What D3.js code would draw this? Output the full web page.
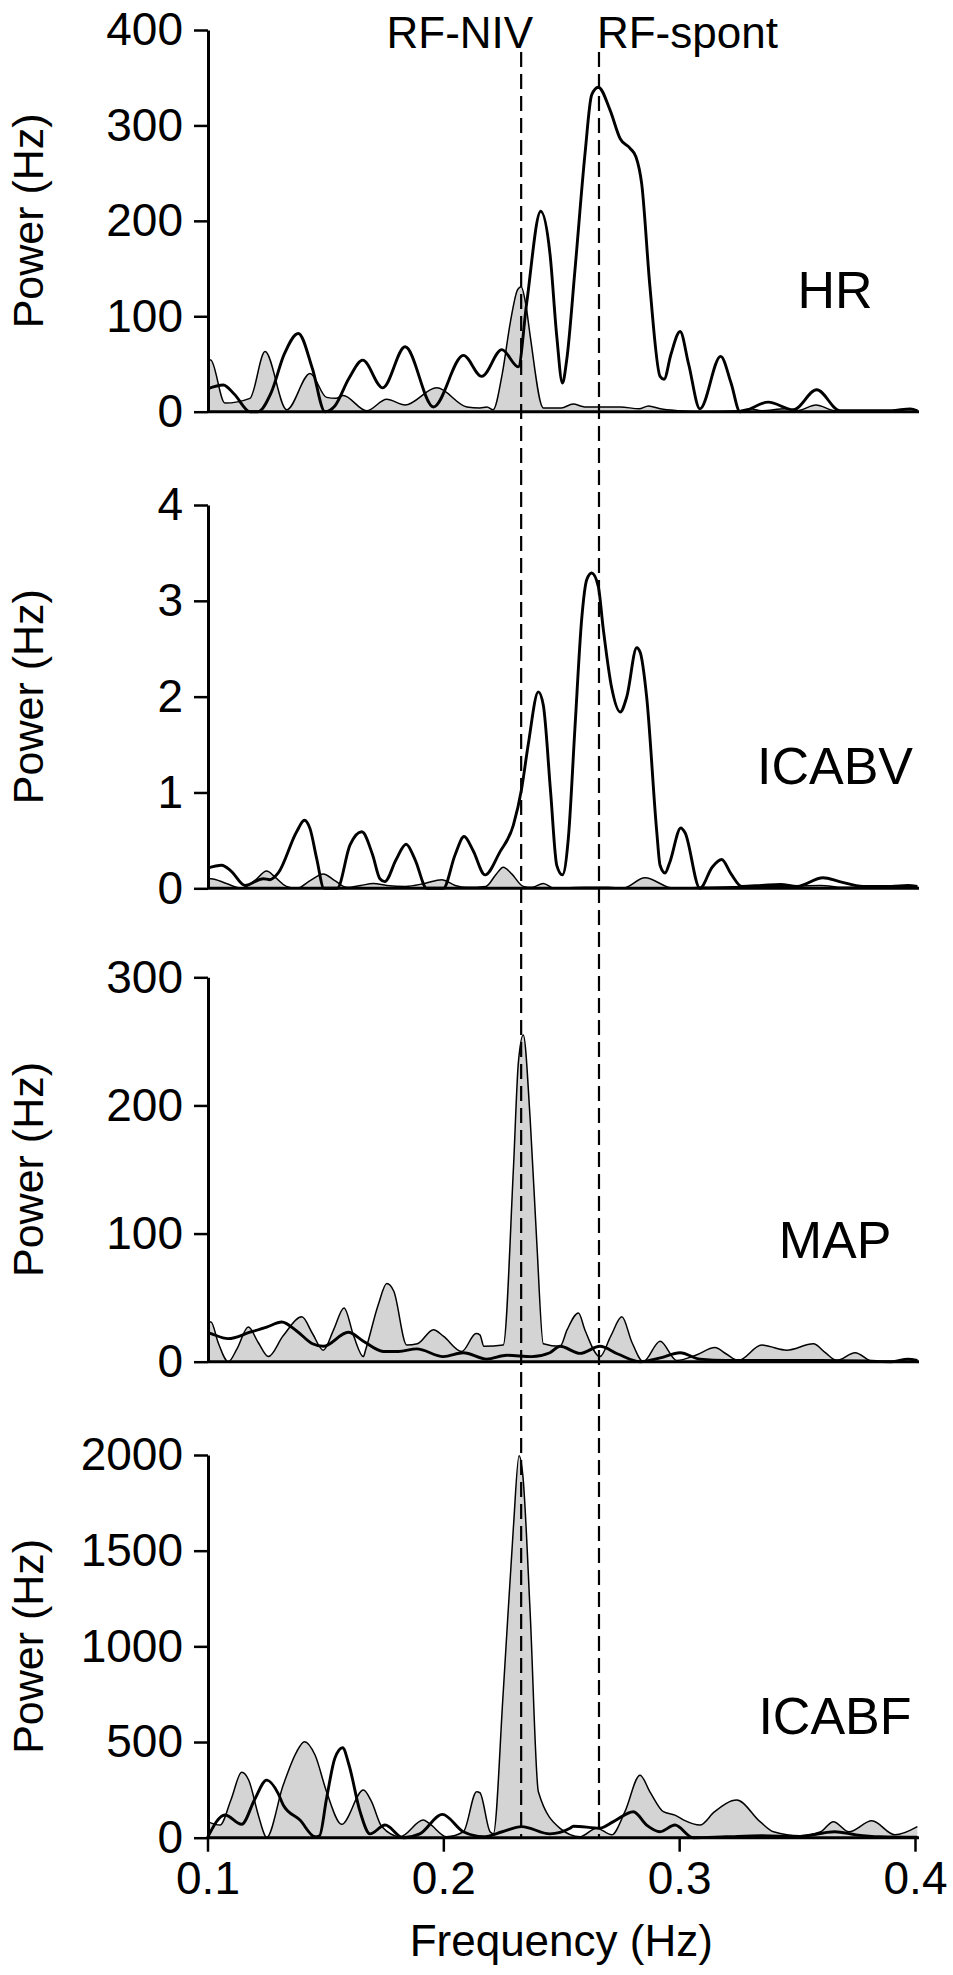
<!DOCTYPE html>
<html>
<head>
<meta charset="utf-8">
<script src="https://cdn.jsdelivr.net/npm/d3@7"></script>
<style>
  html, body { margin: 0; padding: 0; background: #fff; }
  svg { display: block; }
  text { font-family: "Liberation Sans", Arial, Helvetica, sans-serif; fill: #000; }
</style>
</head>
<body>
<svg id="chart" width="953" height="1975"></svg>
<script>
// Respiratory-frequency markers (Hz)
const rfNIV = 0.233;
const rfSpont = 0.266;
const markerLabels = ["RF-NIV", "RF-spont"];

// Panel names and y-axis ticks
const panelNames = ["HR", "ICABV", "MAP", "ICABF"];
const hrTicks = [0, 100, 200, 300, 400];
const icabvTicks = [0, 1, 2, 3, 4];
const mapTicks = [0, 100, 200, 300];
const icabfTicks = [0, 500, 1000, 1500, 2000];
const freqTicks = [0.1, 0.2, 0.3, 0.4];

// Spectra as [frequency (Hz), power] — NIV (shaded) and spontaneous breathing (bold)
const hrNIV = [[0.100,55],[0.1015,54],[0.1074,9],[0.118,14],[0.1244,63],[0.1336,2],[0.1435,40],[0.1505,15],
  [0.1545,14],[0.1575,17],[0.1675,1],[0.176,13],[0.1838,7],[0.1972,25],[0.21,5],[0.2155,4],[0.2185,5],
  [0.2211,2],[0.225,40],[0.2285,95],[0.2315,128],[0.233,131],[0.235,112],[0.2368,80],[0.2424,4],[0.250,4],
  [0.255,8],[0.260,5],[0.275,5],[0.283,3],[0.287,6],[0.292,3],[0.300,1],[0.31,0],[0.325,1],[0.33,3],
  [0.335,1],[0.345,3],[0.35,1],[0.358,7],[0.366,1],[0.38,0],[0.401,0]];
const hrSpont = [[0.100,24],[0.1067,28],[0.1115,18],[0.118,0],[0.1214,0],[0.127,20],[0.1325,60],[0.1385,82],
  [0.1445,45],[0.1498,0],[0.154,6],[0.160,35],[0.1658,54],[0.1743,25],[0.1838,68],[0.1958,5],[0.2085,59],
  [0.2163,37],[0.2248,65],[0.2318,47],[0.2353,113],[0.2413,210],[0.2452,166],[0.2481,79],[0.2505,30],
  [0.2523,54],[0.2558,148],[0.2601,271],[0.2629,332],[0.2657,340],[0.2707,316],[0.275,286],[0.2792,276],
  [0.2817,267],[0.2841,239],[0.2876,131],[0.2919,37],[0.2936,34],[0.2965,60],[0.3004,84],[0.304,50],
  [0.3088,3],[0.3176,58],[0.322,30],[0.3258,0],[0.3378,10],[0.3484,2],[0.3583,23],[0.3682,1],[0.38,1],
  [0.39,1],[0.398,3],[0.401,1]];

const icabvNIV = [[0.100,0.10],[0.1015,0.10],[0.108,0.05],[0.1145,0.0],[0.120,0.08],[0.1251,0.18],[0.1285,0.12],
  [0.1335,0.02],[0.138,0.0],[0.1435,0.08],[0.1491,0.15],[0.154,0.08],[0.159,0.01],[0.165,0.03],[0.1703,0.05],
  [0.176,0.03],[0.184,0.02],[0.192,0.05],[0.1993,0.09],[0.205,0.03],[0.210,0.01],[0.218,0.02],[0.2225,0.15],
  [0.2254,0.22],[0.229,0.15],[0.2339,0.02],[0.2375,0.01],[0.2424,0.05],[0.247,0.0],[0.26,0.01],[0.27,0.01],
  [0.276,0.0],[0.2855,0.11],[0.2975,0.0],[0.31,0.01],[0.33,0.02],[0.345,0.02],[0.36,0.03],[0.37,0.01],
  [0.385,0.01],[0.401,0.02]];
const icabvSpont = [[0.100,0.21],[0.106,0.24],[0.110,0.18],[0.1159,0.03],[0.1237,0.10],[0.1265,0.09],[0.130,0.16],
  [0.1378,0.59],[0.1411,0.71],[0.1435,0.62],[0.1463,0.31],[0.1494,0.0],[0.155,0.0],[0.1604,0.45],[0.1654,0.59],
  [0.170,0.35],[0.1731,0.10],[0.1752,0.07],[0.180,0.30],[0.1842,0.46],[0.188,0.30],[0.193,0.0],[0.200,0.0],
  [0.205,0.35],[0.2088,0.54],[0.2125,0.40],[0.2177,0.14],[0.224,0.38],[0.2297,0.66],[0.2332,1.04],[0.236,1.50],
  [0.2403,2.05],[0.2424,1.91],[0.2455,1.0],[0.2481,0.24],[0.2505,0.14],[0.253,0.52],[0.2558,1.67],[0.2587,2.82],
  [0.2608,3.22],[0.2629,3.29],[0.2657,3.15],[0.2678,2.71],[0.2714,2.09],[0.275,1.84],[0.2778,2.0],[0.282,2.51],
  [0.2835,2.46],[0.2862,2.0],[0.2905,0.59],[0.2919,0.24],[0.294,0.16],[0.296,0.27],[0.3007,0.63],[0.3025,0.58],
  [0.3088,0.0],[0.314,0.22],[0.318,0.30],[0.322,0.15],[0.3265,0.02],[0.335,0.03],[0.343,0.04],[0.350,0.02],
  [0.361,0.11],[0.368,0.07],[0.378,0.02],[0.390,0.02],[0.397,0.03],[0.401,0.02]];

const mapNIV = [[0.100,31],[0.1015,31],[0.1045,15],[0.1088,0],[0.1125,10],[0.1173,27],[0.1215,15],[0.1258,4],
  [0.132,20],[0.140,35],[0.1445,22],[0.1491,9],[0.1535,25],[0.1579,42],[0.162,20],[0.1661,4],[0.167,9],
  [0.1725,45],[0.176,61],[0.179,55],[0.1845,13],[0.189,14],[0.1958,25],[0.2,20],[0.2078,8],[0.2139,22],
  [0.2155,21],[0.2172,12],[0.2254,13],[0.2297,150],[0.2318,233],[0.2339,255],[0.2368,190],[0.2396,94],
  [0.2424,14],[0.2495,12],[0.2525,25],[0.2573,38],[0.260,25],[0.2664,4],[0.271,20],[0.2757,35],[0.280,15],
  [0.2848,0],[0.2919,16],[0.299,1],[0.307,5],[0.3152,11],[0.320,6],[0.3251,1],[0.335,13],[0.338,12],
  [0.3456,9],[0.3569,14],[0.362,7],[0.3668,1],[0.3746,7],[0.3823,0],[0.392,0],[0.397,2],[0.401,1]];
const mapSpont = [[0.100,23],[0.1015,22],[0.1088,18],[0.118,23],[0.1251,27],[0.1315,31],[0.1378,24],[0.1445,14],
  [0.1491,12],[0.1597,23],[0.1661,16],[0.1746,8],[0.181,8],[0.1887,10],[0.200,4],[0.2085,7],[0.2184,2],
  [0.2269,5],[0.2375,4],[0.2452,7],[0.2495,12],[0.258,6.5],[0.2664,12],[0.274,6],[0.2834,0],[0.292,3],
  [0.3004,7],[0.3088,2],[0.320,1],[0.340,1],[0.360,1],[0.380,0.5],[0.390,0],[0.397,2],[0.401,1]];

const icabfNIV = [[0.100,84],[0.1053,66],[0.110,200],[0.1145,342],[0.1175,300],[0.1215,120],[0.1244,10],
  [0.1250,0],[0.1321,275],[0.1378,449],[0.1411,502],[0.1456,432],[0.1505,240],[0.1569,70],[0.1661,249],
  [0.1695,190],[0.1739,58],[0.1816,5],[0.1915,92],[0.194,75],[0.2014,5],[0.2085,31],[0.2141,240],[0.2155,235],
  [0.2198,31],[0.2212,20],[0.2254,760],[0.2297,1620],[0.2321,1996],[0.2337,1895],[0.2368,1181],[0.2403,240],
  [0.2495,49],[0.258,5],[0.265,50],[0.2714,15],[0.277,136],[0.2834,327],[0.2876,240],[0.2933,136],[0.2982,118],
  [0.302,92],[0.3088,66],[0.315,136],[0.3244,197],[0.3343,84],[0.340,31],[0.3513,10],[0.360,31],[0.3654,84],
  [0.372,31],[0.3817,88],[0.3915,15],[0.401,58]];
const icabfSpont = [[0.100,0],[0.1074,119],[0.1145,70],[0.120,200],[0.1251,301],[0.130,230],[0.1321,171],
  [0.1392,92],[0.1456,5],[0.1475,10],[0.1505,206],[0.154,415],[0.1573,470],[0.160,380],[0.1647,136],
  [0.1689,20],[0.1753,66],[0.183,0],[0.190,20],[0.1996,122],[0.2085,31],[0.217,5],[0.225,31],[0.2332,58],
  [0.2452,20],[0.2537,49],[0.2551,60],[0.2664,50],[0.2721,84],[0.2806,136],[0.2862,66],[0.2919,31],
  [0.2982,66],[0.306,0],[0.320,5],[0.335,10],[0.350,5],[0.366,31],[0.375,15],[0.385,5],[0.401,2]];

const panels = [
  { name: panelNames[0], ticks: hrTicks,    niv: hrNIV,    spont: hrSpont,    top: 30,    bottom: 411.7 },
  { name: panelNames[1], ticks: icabvTicks, niv: icabvNIV, spont: icabvSpont, top: 505,   bottom: 888.3 },
  { name: panelNames[2], ticks: mapTicks,   niv: mapNIV,   spont: mapSpont,   top: 977.3, bottom: 1361.7 },
  { name: panelNames[3], ticks: icabfTicks, niv: icabfNIV, spont: icabfSpont, top: 1455,  bottom: 1837.7 }
];

const svg = d3.select("#chart");
const x = d3.scaleLinear().domain([0.1, 0.4]).range([207.5, 915]);
const axisX0 = 208;
const dataEnd = 0.4017;

panels.forEach((p, i) => {
  const y = d3.scaleLinear().domain([0, d3.max(p.ticks)]).range([p.bottom, p.top]);
  const g = svg.append("g");

  // shaded NIV spectrum
  g.append("path")
    .datum(p.niv)
    .attr("d", d3.area().x(d => x(d[0])).y0(y(0)).y1(d => y(d[1])).curve(d3.curveMonotoneX))
    .attr("fill", "#d4d4d4")
    .attr("stroke", "none");
  g.append("path")
    .datum(p.niv)
    .attr("d", d3.line().x(d => x(d[0])).y(d => y(d[1])).curve(d3.curveMonotoneX))
    .attr("fill", "none")
    .attr("stroke", "#000")
    .attr("stroke-width", 1.5)
    .attr("stroke-linejoin", "round");

  // spontaneous-breathing spectrum
  g.append("path")
    .datum(p.spont)
    .attr("d", d3.line().x(d => x(d[0])).y(d => y(d[1])).curve(d3.curveMonotoneX))
    .attr("fill", "none")
    .attr("stroke", "#000")
    .attr("stroke-width", 2.9)
    .attr("stroke-linejoin", "round");

  // baseline
  g.append("line")
    .attr("x1", axisX0).attr("x2", x(dataEnd))
    .attr("y1", y(0)).attr("y2", y(0))
    .attr("stroke", "#000").attr("stroke-width", 3);

  // y axis
  const ya = g.append("g")
    .attr("transform", `translate(${axisX0},0)`)
    .call(d3.axisLeft(y).tickValues(p.ticks).tickFormat(d3.format("d"))
      .tickSize(14).tickSizeOuter(0).tickPadding(11));
  ya.select(".domain").attr("stroke", "#000").attr("stroke-width", 3);
  ya.selectAll(".tick line").attr("stroke", "#000").attr("stroke-width", 2.5);
  ya.selectAll(".tick text")
    .attr("font-size", 46)
    .attr("font-family", "'Liberation Sans', Arial, sans-serif")
    .attr("fill", "#000");

  // y title
  g.append("text")
    .attr("transform", `translate(43,${(p.top + p.bottom) / 2}) rotate(-90)`)
    .attr("text-anchor", "middle")
    .attr("font-size", 43)
    .text("Power (Hz)");

  // panel name
  g.append("text")
    .attr("x", 835)
    .attr("y", p.bottom - 104)
    .attr("text-anchor", "middle")
    .attr("font-size", 52)
    .text(p.name);

  // x axis on the bottom panel only
  if (i === panels.length - 1) {
    const xa = g.append("g")
      .attr("transform", `translate(0,${p.bottom})`)
      .call(d3.axisBottom(x).tickValues(freqTicks).tickFormat(d3.format(".1f"))
        .tickSize(14).tickSizeOuter(0).tickPadding(10));
    xa.select(".domain").remove();
    xa.selectAll(".tick line").attr("stroke", "#000").attr("stroke-width", 2.5);
    xa.selectAll(".tick text")
      .attr("font-size", 46)
      .attr("font-family", "'Liberation Sans', Arial, sans-serif")
      .attr("fill", "#000");
    g.append("text")
      .attr("x", (x(0.1) + x(0.4)) / 2)
      .attr("y", 1956)
      .attr("text-anchor", "middle")
      .attr("font-size", 44)
      .text("Frequency (Hz)");
  }
});

// respiratory-frequency markers spanning all panels
const markers = [rfNIV, rfSpont];
svg.selectAll("line.marker")
  .data(markers)
  .enter().append("line")
  .attr("class", "marker")
  .attr("x1", d => x(d)).attr("x2", d => x(d))
  .attr("y1", 52).attr("y2", panels[panels.length - 1].bottom)
  .attr("stroke", "#000")
  .attr("stroke-width", 2.2)
  .attr("stroke-dasharray", "15,7");

svg.append("text")
  .attr("x", x(rfNIV) + 12).attr("y", 48)
  .attr("text-anchor", "end")
  .attr("font-size", 44)
  .text(markerLabels[0]);
svg.append("text")
  .attr("x", x(rfSpont) - 2).attr("y", 48)
  .attr("text-anchor", "start")
  .attr("font-size", 44)
  .text(markerLabels[1]);
</script>
</body>
</html>
